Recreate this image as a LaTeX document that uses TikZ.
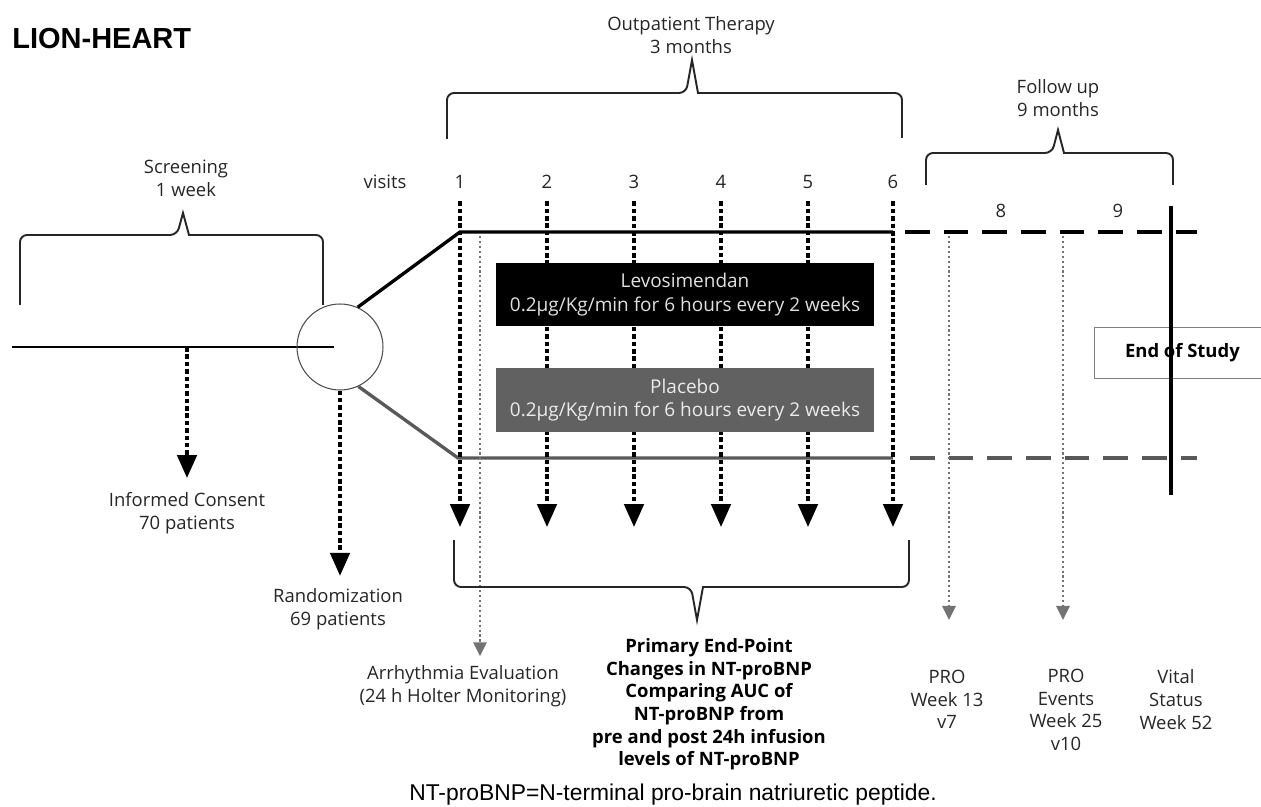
\documentclass[tikz,border=0pt]{standalone}
\usepackage{fontspec}
\setmainfont{Open Sans}
\newfontfamily\arialfont{Liberation Sans}
\usetikzlibrary{arrows.meta,calc}

\begin{document}
\begin{tikzpicture}[x=0.02cm, y=-0.02cm,
  lbl/.style={align=center, inner sep=2pt, text=black!85,
    font=\fontsize{10.5}{12.9}\selectfont},
  boldlbl/.style={lbl, text=black, font=\fontsize{10.5}{12.9}\selectfont\bfseries},
  brk/.style={line width=1.1pt, draw=black!85},
  arm/.style={line width=1.9pt},
  visit/.style={line width=2pt, dash pattern=on 2.6pt off 1.6pt,
    -{Triangle[length=13pt, width=11pt]}},
  pro/.style={draw=black!55, line width=1.4pt, dash pattern=on 1.2pt off 1.6pt,
    -{Triangle[length=8pt, width=7.5pt, fill=black!55]}},
  trt/.style={align=center, minimum width=7.56cm, minimum height=1.27cm,
    inner sep=0pt, font=\fontsize{10.8}{13.2}\selectfont}]
  \useasboundingbox (0,0) rectangle (1261,807);

  \node (title) [anchor=west, inner sep=0pt,
    font=\arialfont\bfseries\fontsize{16.5}{18}\selectfont] at (12,39) {LION-HEART};

  % screening
  \node (scr) [lbl] at (186,178) {Screening\\1 week};
  \draw[brk] (20,305) [rounded corners=4pt] -- (20,235) -- (177,235)
    [sharp corners] -- (183,213) -- (189,235) [rounded corners=4pt] -- (323,235) -- (323,305);
  \coordinate (s0) at (12,347);
  \coordinate (s1) at (334,347);
  \draw[line width=1.6pt] (s0) -- (s1);
  \node (rand) [circle, draw=black!70, line width=0.6pt, minimum size=1.72cm,
    inner sep=0pt] at (340,347) {};

  \coordinate (ic) at (187,347);
  \node (icon) [lbl] at (187,513) {Informed Consent\\70 patients};
  \draw[visit, shorten >=6pt] (ic) -- (icon.north);
  \node (rnd) [lbl] at (338,609) {Randomization\\69 patients};
  \draw[visit, shorten >=5pt] (rand.south) -- (rand.south |- rnd.north);

  % arms
  \coordinate (up0) at (460,232);
  \coordinate (up1) at (893,232);
  \coordinate (up2) at (905,232);
  \coordinate (up3) at (1197,232);
  \coordinate (lo0) at (458,458);
  \coordinate (lo1) at (893,458);
  \coordinate (lo2) at (910,458);
  \coordinate (lo3) at (1197,458);
  \draw[arm] (rand.66) -- (up0) -- (up1);
  \draw[arm, dash pattern=on 14pt off 8pt] (up2) -- (up3);
  \draw[arm, black!65] (rand.-65) -- (lo0) -- (lo1);
  \draw[arm, black!65, dash pattern=on 14pt off 8pt] (lo2) -- (lo3);

  % visits
  \node (vis) [lbl] at (385,182) {visits};
  \foreach \n/\x in {1/460,2/547,3/634,4/721,5/808,6/893} {
    \node (n\n) [lbl] at (\x,182) {\n};
    \coordinate (vb\n) at (\x,527);
    \draw[visit, shorten <=5pt] (n\n.south) -- (vb\n);
  }
  \node (n8) [lbl] at (1001,211) {8};
  \node (n9) [lbl] at (1118,211) {9};

  \coordinate (ar0) at (480,236);
  \node (arr) [lbl] at (463,686) {Arrhythmia Evaluation\\(24 h Holter Monitoring)};
  \draw[pro, shorten >=3pt] (ar0) -- (ar0 |- arr.north);

  \node (levo) [trt, fill=black, text=black!12] at (685,294.5)
    {Levosimendan\\0.2µg/Kg/min for 6 hours every 2 weeks};
  \node (plac) [trt, fill=black!62, text=black!8] at (685,400)
    {Placebo\\0.2µg/Kg/min for 6 hours every 2 weeks};

  % outpatient therapy
  \node (opt) [lbl] at (691,35) {Outpatient Therapy\\3 months};
  \draw[brk] (447,139) [rounded corners=4pt] -- (447,93) -- (686,93)
    [sharp corners] -- (692,60) -- (698,93) [rounded corners=4pt] -- (902,93) -- (902,138);

  % follow up
  \node (fu) [lbl] at (1058,98) {Follow up\\9 months};
  \draw[brk] (926,185) [rounded corners=4pt] -- (926,153) -- (1052,153)
    [sharp corners] -- (1058,130) -- (1064,153) [rounded corners=4pt] -- (1173,153) -- (1173,185);

  \coordinate (p7) at (949,236);
  \coordinate (p7e) at (949,620);
  \coordinate (p10) at (1063,236);
  \coordinate (p10e) at (1063,620);
  \draw[pro] (p7) -- (p7e);
  \draw[pro] (p10) -- (p10e);
  \node (pro7) [lbl] at (947,699.5) {PRO\\Week 13\\v7};
  \node (pro10) [lbl] at (1066,710) {PRO\\Events\\Week 25\\v10};
  \node (vital) [lbl] at (1176,699.5) {Vital\\Status\\Week 52};

  % end of study
  \node (eos) [boldlbl, draw=black!50, line width=0.5pt, fill=white,
    minimum width=3.52cm, minimum height=1.02cm, anchor=west] at (1094,352.5) {End of Study};
  \coordinate (eos0) at (1171,206);
  \coordinate (eos1) at (1171,495);
  \draw[arm] (eos0) -- (eos1);

  % primary end-point
  \draw[brk] (454,540) [rounded corners=4pt] -- (454,587) -- (691,587)
    [sharp corners] -- (697,620) -- (703,587) [rounded corners=4pt] -- (909,587) -- (909,540);
  \node (pep) [boldlbl] at (709,704.5) {Primary End-Point\\Changes in NT-proBNP\\Comparing AUC of\\NT-proBNP from\\pre and post 24h infusion\\levels of NT-proBNP};

  \node (note) [inner sep=0pt, font=\arialfont\fontsize{13}{15}\selectfont] at (673,795)
    {NT-proBNP=N-terminal pro-brain natriuretic peptide.};
\end{tikzpicture}
\end{document}
